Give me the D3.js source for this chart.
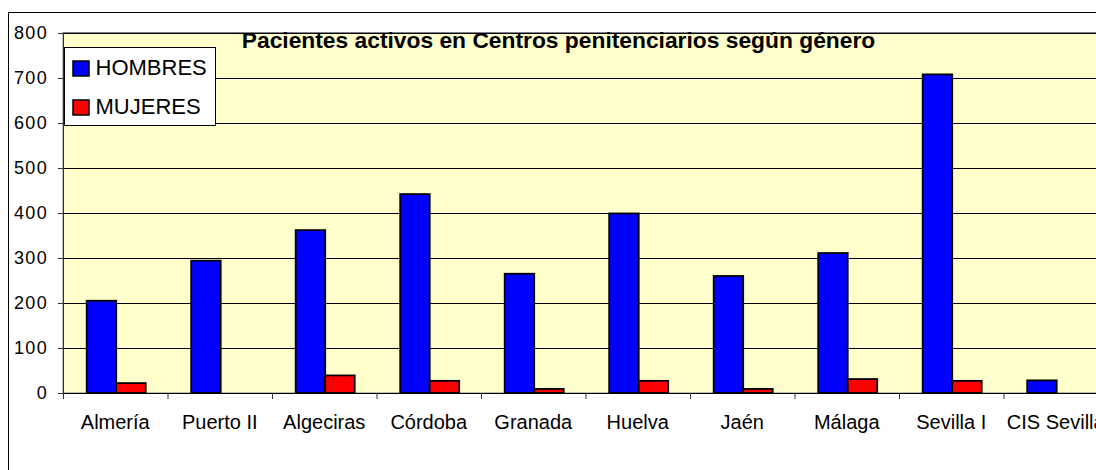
<!DOCTYPE html>
<html>
<head>
<meta charset="utf-8">
<script src="https://cdn.jsdelivr.net/npm/d3@7"></script>
<style>
  body { margin: 0; background: #fff; }
  text { font-family: Arial, "Liberation Sans", sans-serif; fill: #000; }
</style>
</head>
<body>
<div id="chart"></div>
<script>
const categories = ["Almería", "Puerto II", "Algeciras", "Córdoba", "Granada", "Huelva", "Jaén", "Málaga", "Sevilla I", "CIS Sevilla"];
const hombres = [205, 294, 362, 442, 265, 399, 260, 311, 708, 28];
const mujeres = [22, 0, 39, 27, 9, 27, 9, 31, 27, 0];
const seriesNames = ["HOMBRES", "MUJERES"];
const seriesColors = ["#0000ff", "#ff0000"];
const yTicks = [0, 100, 200, 300, 400, 500, 600, 700, 800];
const title = "Pacientes activos en Centros penitenciarios según género";

const W = 1096, H = 470;
const plot = { left: 63, top: 33, bottom: 393, band: 104.5 };

const svg = d3.select("#chart").append("svg")
  .attr("width", W)
  .attr("height", H);

// outer chart frame (runs off the right and bottom of the picture)
svg.append("rect")
  .attr("x", 8.5).attr("y", 12.5)
  .attr("width", 1200).attr("height", 600)
  .attr("fill", "#fff")
  .attr("stroke", "#000");

const x = d3.scaleBand()
  .domain(categories)
  .range([plot.left, plot.left + plot.band * categories.length]);

const xs = d3.scaleBand()
  .domain(seriesNames)
  .range([23.7, 82.7]);

const y = d3.scaleLinear().domain([0, 800]).range([plot.bottom, plot.top]);

// plot area
svg.append("rect")
  .attr("x", plot.left).attr("y", plot.top - 0.5)
  .attr("width", x.range()[1] - plot.left)
  .attr("height", plot.bottom - plot.top + 0.5)
  .attr("fill", "#ffffcc")
  .attr("stroke", "#808080");

// gridlines
svg.append("g")
  .attr("transform", `translate(${plot.left},0)`)
  .call(d3.axisLeft(y).tickValues(yTicks.slice(1)).tickFormat("").tickSize(-(x.range()[1] - plot.left)))
  .call(g => g.select(".domain").remove())
  .call(g => g.selectAll("line").attr("stroke", "#000").attr("stroke-width", 1));

// y axis
svg.append("g")
  .attr("transform", `translate(${plot.left},0)`)
  .call(d3.axisLeft(y).tickValues(yTicks).tickSize(5).tickPadding(10).tickSizeOuter(0))
  .call(g => g.select(".domain").attr("stroke", "#333").attr("d", `M0.5,${plot.top}V${plot.bottom + 5}`))
  .call(g => g.selectAll("line").attr("stroke", "#333"))
  .call(g => g.selectAll("text")
    .attr("font-size", 18)
    .attr("letter-spacing", 1.3)
    .attr("font-family", "Arial, 'Liberation Sans', sans-serif")
    .attr("fill", "#000"));

// bars
const rows = categories.map((c, i) => ({ cat: c, vals: [hombres[i], mujeres[i]] }));
svg.append("g")
  .selectAll("g")
  .data(rows)
  .join("g")
  .attr("transform", d => `translate(${x(d.cat)},0)`)
  .selectAll("rect")
  .data(d => d.vals.map((v, j) => ({ key: seriesNames[j], v, color: seriesColors[j] })).filter(d => d.v > 0))
  .join("rect")
  .attr("x", d => xs(d.key))
  .attr("width", xs.bandwidth())
  .attr("y", d => y(d.v))
  .attr("height", d => y(0) - y(d.v))
  .attr("fill", d => d.color)
  .attr("stroke", "#000")
  .attr("stroke-width", 1.8);

// x axis
const xAxis = svg.append("g").attr("transform", `translate(0,${plot.bottom})`);
xAxis.append("line")
  .attr("x1", plot.left).attr("x2", x.range()[1])
  .attr("y1", 0.5).attr("y2", 0.5)
  .attr("stroke", "#000");
xAxis.selectAll("line.tick")
  .data(categories)
  .join("line")
  .attr("class", "tick")
  .attr("x1", d => x(d) + 0.5).attr("x2", d => x(d) + 0.5)
  .attr("y1", 0).attr("y2", 6)
  .attr("stroke", "#333");
xAxis.selectAll("text")
  .data(categories)
  .join("text")
  .attr("x", d => x(d) + x.bandwidth() / 2)
  .attr("y", 36)
  .attr("text-anchor", "middle")
  .attr("font-size", 20)
  .text(d => d);

// title
svg.append("text")
  .attr("x", 558.5).attr("y", 48)
  .attr("text-anchor", "middle")
  .attr("font-size", 22.8)
  .attr("font-weight", "bold")
  .text(title);

// legend
const legend = svg.append("g").attr("transform", "translate(64.5,47.5)");
legend.append("rect")
  .attr("width", 151).attr("height", 78)
  .attr("fill", "#fff").attr("stroke", "#000");
const item = legend.selectAll("g")
  .data(seriesNames)
  .join("g")
  .attr("transform", (d, i) => `translate(0,${i * 39})`);
item.append("rect")
  .attr("x", 8.5).attr("y", 13.5)
  .attr("width", 16).attr("height", 15)
  .attr("fill", (d, i) => seriesColors[i])
  .attr("stroke", "#000").attr("stroke-width", 1.5);
item.append("text")
  .attr("x", 31).attr("y", 27)
  .attr("font-size", 22)
  .text(d => d);
</script>
</body>
</html>
